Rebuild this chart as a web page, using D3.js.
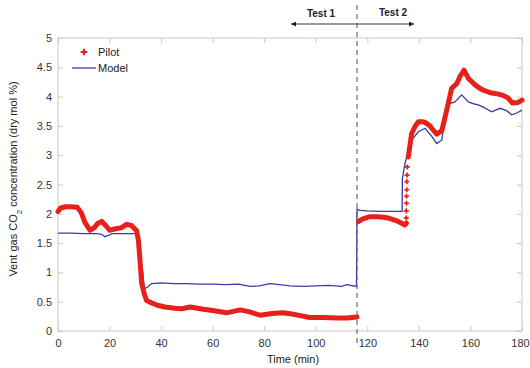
<!DOCTYPE html>
<html><head><meta charset="utf-8">
<script src="https://cdn.jsdelivr.net/npm/d3@7"></script>
<style>body{margin:0;background:#fff}svg{display:block;font-family:"Liberation Sans",Arial,sans-serif}</style>
</head><body><svg id="c" width="530" height="368"></svg>
<script>
// ---- data ----
const xTicks = [0,20,40,60,80,100,120,140,160,180];
const yTicks = [0,0.5,1,1.5,2,2.5,3,3.5,4,4.5,5];
const yTickLabels = ["0","0.5","1","1.5","2","2.5","3","3.5","4","4.5","5"];

const pilotTest1T = [0,1,3,5,7.5,9,10.5,12.4,14,15.5,17,18.5,20,22.8,24.5,26.6,28.5,30.5,31.2,32.5,33.7,34.4,36.3,38.5,41.5,45.4,48,51.2,56.4,60,65.4,70.6,74,78.4,83,87.4,92,97.7,103,108,112,116];
const pilotTest1V = [2.04,2.10,2.12,2.12,2.11,2.02,1.85,1.72,1.76,1.84,1.87,1.80,1.72,1.75,1.76,1.82,1.80,1.71,1.55,0.80,0.60,0.52,0.48,0.44,0.41,0.39,0.38,0.41,0.37,0.35,0.31,0.36,0.33,0.27,0.30,0.31,0.28,0.23,0.23,0.22,0.22,0.24];

const pilotTest2T = [116.6,118,121,124,126.2,128,130,132,134.6,135.2];
const pilotTest2V = [1.87,1.91,1.95,1.95,1.94,1.93,1.90,1.87,1.81,1.84];

const pilotJumpT = [135.1,135.1,135.2,135.2,135.3,135.3,135.4,135.5];
const pilotJumpV = [1.93,2.05,2.18,2.30,2.41,2.55,2.66,2.80];

const pilotTest3T = [135.9,137.2,138.5,139.8,141.7,142.4,144.3,145,146.9,148.9,150.8,152.7,154.7,155.9,157.5,159.2,161.8,163.7,165.5,168.2,170,172,174.5,176.3,178.5,180];
const pilotTest3V = [2.97,3.37,3.49,3.57,3.57,3.56,3.50,3.46,3.36,3.42,3.77,4.14,4.22,4.34,4.45,4.31,4.20,4.14,4.10,4.06,4.05,4.03,3.98,3.89,3.90,3.94];

const modelT = [0,5,10,15,17,18.2,19.5,21,25,30,31,32,33,33.5,34.5,36.3,40,45,50,55,60,65,70,74.5,78,82.2,86,90,95.1,100,105,110,112,115.8,116,117,120,125,130,133.5,133.6,134.6,135.5,137.2,139.8,142.4,145,146.9,148.9,150.8,152,154,156.6,159.2,161,163,165,168.2,171.5,174,176,178,180];
const modelV = [1.67,1.67,1.66,1.66,1.65,1.61,1.63,1.66,1.66,1.66,1.63,1.30,0.95,0.73,0.74,0.81,0.82,0.81,0.81,0.80,0.80,0.79,0.80,0.76,0.77,0.81,0.79,0.77,0.76,0.77,0.78,0.76,0.79,0.76,2.08,2.06,2.05,2.04,2.04,2.04,2.60,2.86,3.00,3.26,3.40,3.46,3.32,3.20,3.26,3.83,3.88,3.91,4.03,3.91,3.88,3.86,3.82,3.74,3.80,3.76,3.69,3.72,3.77];

const testDivider = 116;
const seriesNames = ["Pilot","Model"];
const testLabels = ["Test 1","Test 2"];
const xLabel = "Time (min)";

// ---- drawing ----
const svg = d3.select("#c");
const L=58, R=522, T=38, B=331;
const x = d3.scaleLinear().domain([0,180]).range([L,R]);
const y = d3.scaleLinear().domain([0,5]).range([B,T]);
const red = "#e8201a", blue = "#3a3aa6", frame = "#cfc6c6";

// frame
svg.append("rect").attr("x",L).attr("y",T).attr("width",R-L).attr("height",B-T)
  .attr("fill","none").attr("stroke",frame).attr("stroke-width",1);

// axes
const xb = svg.append("g").attr("transform",`translate(0,${B})`)
  .call(d3.axisBottom(x).tickValues(xTicks).tickSize(-5).tickPadding(8));
const xt = svg.append("g").attr("transform",`translate(0,${T})`)
  .call(d3.axisTop(x).tickValues(xTicks).tickSize(-5).tickFormat(""));
const yl = svg.append("g").attr("transform",`translate(${L},0)`)
  .call(d3.axisLeft(y).tickValues(yTicks).tickSize(-5).tickPadding(6).tickFormat((d,i)=>yTickLabels[i]));
const yr = svg.append("g").attr("transform",`translate(${R},0)`)
  .call(d3.axisRight(y).tickValues(yTicks).tickSize(-5).tickFormat(""));
[xb,xt,yl,yr].forEach(g=>{
  g.select(".domain").remove();
  g.selectAll(".tick line").attr("stroke",frame);
  g.selectAll("text").attr("fill","#333").style("font-size","11px").style("font-family","Liberation Sans, Arial, sans-serif");
});
// keep the last x label inside the window
xb.selectAll(".tick text").filter(d=>d===180).attr("dx",-2);

// lines
const line = d3.line().x(d=>x(d[0])).y(d=>y(d[1]));
const zip = (a,b)=>a.map((t,i)=>[t,b[i]]);

// model
svg.append("path").datum(zip(modelT,modelV)).attr("d",line)
  .attr("fill","none").attr("stroke",blue).attr("stroke-width",1.3);

// pilot thick band
[[pilotTest1T,pilotTest1V],[pilotTest2T,pilotTest2V],[pilotTest3T,pilotTest3V]].forEach(([t,v])=>{
  svg.append("path").datum(zip(t,v)).attr("d",line)
    .attr("fill","none").attr("stroke",red).attr("stroke-width",5)
    .attr("stroke-linejoin","round").attr("stroke-linecap","round");
});
// pilot sparse markers on jump
const star = d3.symbol().type(d3.symbolCross).size(14);
svg.append("g").selectAll("path").data(zip(pilotJumpT,pilotJumpV)).join("path")
  .attr("d",star).attr("transform",d=>`translate(${x(d[0])},${y(d[1])})`).attr("fill",red);

// divider dashed line
svg.append("line").attr("x1",x(testDivider)).attr("x2",x(testDivider)).attr("y1",5).attr("y2",345)
  .attr("stroke","#6a6060").attr("stroke-width",1.1).attr("stroke-dasharray","5,4");

// arrows
const defs = svg.append("defs");
defs.append("marker").attr("id","ah").attr("viewBox","0 0 10 10").attr("refX",10).attr("refY",5)
  .attr("markerWidth",7).attr("markerHeight",5).attr("orient","auto-start-reverse")
  .append("path").attr("d","M0,0L10,5L0,10z").attr("fill","#222");
svg.append("line").attr("x1",291).attr("x2",414).attr("y1",24).attr("y2",24)
  .attr("stroke","#333").attr("stroke-width",1)
  .attr("marker-start","url(#ah)").attr("marker-end","url(#ah)");
svg.append("text").attr("x",321).attr("y",17).attr("text-anchor","middle")
  .style("font-size","10px").style("font-weight","bold").attr("fill","#222").text(testLabels[0]);
svg.append("text").attr("x",393).attr("y",16).attr("text-anchor","middle")
  .style("font-size","10px").style("font-weight","bold").attr("fill","#222").text(testLabels[1]);

// legend
svg.append("path").attr("d",d3.symbol().type(d3.symbolCross).size(24)).attr("transform","translate(84,52)").attr("fill",red);
svg.append("text").attr("x",98).attr("y",56).style("font-size","11px").attr("fill","#222").text(seriesNames[0]);
svg.append("line").attr("x1",72).attr("x2",96).attr("y1",68).attr("y2",68).attr("stroke",blue).attr("stroke-width",1.3);
svg.append("text").attr("x",98).attr("y",72).style("font-size","11px").attr("fill","#222").text(seriesNames[1]);

// axis labels
svg.append("text").attr("x",293).attr("y",363).attr("text-anchor","middle")
  .style("font-size","11px").attr("fill","#222").text(xLabel);
const yt = svg.append("text").attr("transform","translate(17,179) rotate(-90)").attr("text-anchor","middle")
  .style("font-size","11px").attr("fill","#222");
yt.append("tspan").text("Vent gas CO");
yt.append("tspan").attr("baseline-shift","sub").style("font-size","8px").text("2");
yt.append("tspan").text(" concentration (dry mol %)");
</script></body></html>
